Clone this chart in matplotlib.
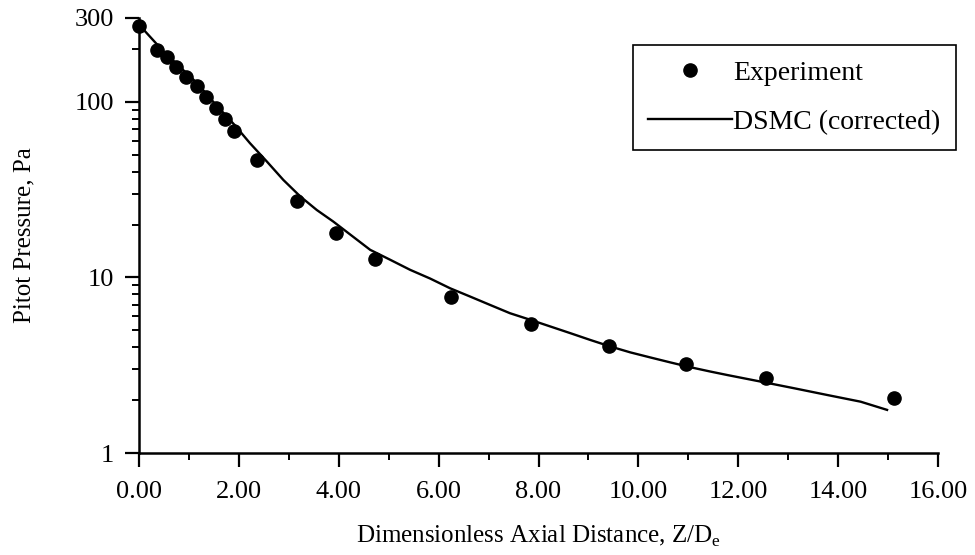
import numpy as np
import matplotlib
matplotlib.use("Agg")
from matplotlib import pyplot as plt
from matplotlib.ticker import FixedLocator, FixedFormatter, StrMethodFormatter

# Experiment: Z/De vs pitot pressure (Pa)
exp_z = [0.0, 0.37, 0.57, 0.74, 0.94, 1.16, 1.34, 1.54, 1.73, 1.91,
         2.37, 3.16, 3.95, 4.73, 6.25, 7.84, 9.42, 10.96, 12.55, 15.11]
exp_p = [269, 196, 180, 158, 139, 123, 106, 92, 80, 68,
         46.7, 27.4, 18.0, 12.8, 7.71, 5.43, 4.07, 3.21, 2.67, 2.06]

# DSMC (corrected) curve
dsmc_z = [0.0, 0.49, 1.16, 1.50, 1.91, 2.22, 2.56, 2.89, 3.23, 3.56, 3.89,
          4.63, 5.03, 5.43, 5.83, 6.23, 6.63, 7.03, 7.43, 7.84, 8.24, 8.64,
          9.04, 9.44, 9.84, 10.24, 10.64, 11.04, 11.44, 11.78, 12.45, 13.11,
          13.78, 14.45, 14.98]
dsmc_p = [275, 193.5, 128, 99, 74, 58.2, 45.7, 35.9, 28.9, 24.2, 20.8,
          14.35, 12.6, 11.04, 9.85, 8.67, 7.78, 6.97, 6.25, 5.73, 5.25, 4.81,
          4.40, 4.04, 3.74, 3.50, 3.28, 3.08, 2.91, 2.78, 2.55, 2.34,
          2.14, 1.96, 1.76]

y_ticks = [1, 10, 100, 300]
y_ticklabels = ["1", "10", "100", "300"]

plt.rcParams['font.family'] = ['Liberation Serif', 'DejaVu Serif']
plt.rcParams['mathtext.fontset'] = 'custom'
plt.rcParams['mathtext.rm'] = 'Liberation Serif'

fig = plt.figure(figsize=(9.75, 5.55), dpi=100)
ax = fig.add_axes([139/975, 1-453/555, (938-139)/975, (453-18)/555])

ax.plot(dsmc_z, dsmc_p, color='black', lw=1.7, label='DSMC (corrected)')
ax.plot(exp_z, exp_p, 'o', color='black', ms=9.5, clip_on=False, label='Experiment')

ax.set_yscale('log')
ax.set_xlim(0, 16)
ax.set_ylim(1, 300)

ax.spines['top'].set_visible(False)
ax.spines['right'].set_visible(False)
ax.spines['left'].set_linewidth(1.8)
ax.spines['bottom'].set_linewidth(1.8)

ax.xaxis.set_major_locator(FixedLocator(np.arange(0, 17, 2)))
ax.xaxis.set_minor_locator(FixedLocator(np.arange(1, 16, 2)))
ax.xaxis.set_major_formatter(StrMethodFormatter('{x:.2f}'))

minor_y = [m * d for d in (1, 10) for m in range(2, 10)] + [200]
ax.yaxis.set_major_locator(FixedLocator(y_ticks))
ax.yaxis.set_major_formatter(FixedFormatter(y_ticklabels))
ax.yaxis.set_minor_locator(FixedLocator(minor_y))
ax.yaxis.set_minor_formatter(FixedFormatter([]))

ax.tick_params(which='major', direction='out', length=10, width=1.6,
               labelsize=19, pad=8)
ax.tick_params(axis='x', which='major', pad=10)
ax.tick_params(which='minor', direction='out', length=5, width=1.4)

ax.set_xlabel(r'Dimensionless Axial Distance, Z/D$_\mathregular{e}$',
              fontsize=18, labelpad=15)
ax.set_ylabel('Pitot Pressure, Pa', fontsize=18, labelpad=28)

handles, labels = ax.get_legend_handles_labels()
leg = ax.legend(handles[::-1], labels[::-1], loc='upper left',
                bbox_to_anchor=(633/975, 1-45/555), bbox_transform=fig.transFigure,
                borderaxespad=0, frameon=True, fancybox=False, edgecolor='black',
                fontsize=20, handlelength=3.0, handletextpad=0.05,
                borderpad=0.55, labelspacing=0.85, framealpha=1)
leg.get_frame().set_linewidth(1.2)

fig.savefig('out.png', dpi=100)
